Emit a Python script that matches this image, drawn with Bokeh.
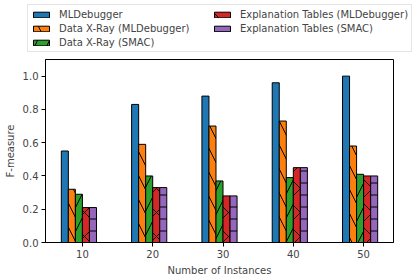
from bokeh.plotting import figure
from bokeh.layouts import column
from bokeh.models import ColumnDataSource, Legend, LegendItem, FixedTicker, Range1d, PrintfTickFormatter
from bokeh.transform import dodge
from bokeh.embed import file_html
from bokeh.resources import INLINE

instances = [10, 20, 30, 40, 50]
mldebugger = [0.55, 0.83, 0.88, 0.96, 1.00]
dxr_mld = [0.32, 0.59, 0.70, 0.73, 0.58]
dxr_smac = [0.29, 0.40, 0.37, 0.39, 0.41]
et_mld = [0.21, 0.33, 0.28, 0.45, 0.40]
et_smac = [0.21, 0.33, 0.28, 0.45, 0.40]
series_names = ["MLDebugger", "Data X-Ray (MLDebugger)", "Data X-Ray (SMAC)",
                "Explanation Tables (MLDebugger)", "Explanation Tables (SMAC)"]

src = ColumnDataSource(dict(n=instances, s0=mldebugger, s1=dxr_mld, s2=dxr_smac,
                            s3=et_mld, s4=et_smac))

FONT = "DejaVu Sans"
colors = ["#1f77b4", "#ff7f0e", "#2ca02c", "#d62728", "#9467bd"]
hatches = [" ", "left_diagonal_line", "right_diagonal_line", "diagonal_cross", "horizontal_line"]
scales = [12, 24, 24, 24, 12]
offsets = [-2.5, -1.5, -0.5, 0.5, 1.5]

# main chart
p = figure(width=417, height=224, output_backend="svg", toolbar_location=None,
           x_range=Range1d(4.75, 54.25), y_range=Range1d(0, 1.1),
           min_border_left=45, min_border_right=24, min_border_top=3, min_border_bottom=38)
p.frame_align = False
for i in range(5):
    p.vbar(x=dodge("n", offsets[i]), top="s%d" % i, width=1, bottom=0, source=src,
           fill_color=colors[i], line_color="black", line_width=1,
           hatch_pattern=hatches[i], hatch_color="black", hatch_scale=scales[i],
           hatch_weight=1)

p.xaxis.ticker = FixedTicker(ticks=instances)
p.yaxis.ticker = FixedTicker(ticks=[0, 0.2, 0.4, 0.6, 0.8, 1.0])
p.yaxis.formatter = PrintfTickFormatter(format="%.1f")
p.xaxis.axis_label = "Number of Instances"
p.yaxis.axis_label = "F-measure"
for ax in (p.xaxis, p.yaxis):
    ax.axis_label_text_font = FONT
    ax.axis_label_text_font_size = "10px"
    ax.axis_label_text_font_style = "normal"
    ax.major_label_text_font = FONT
    ax.major_label_text_font_size = "10px"
    ax.major_tick_out = 4
    ax.major_tick_in = 0
    ax.minor_tick_out = 0
    ax.minor_tick_in = 0
    ax.axis_line_color = "black"
    ax.major_tick_line_color = "black"
    ax.major_label_standoff = 3
    ax.axis_label_standoff = 4
p.xgrid.visible = False
p.ygrid.visible = False
p.outline_line_color = "black"
p.outline_line_alpha = 1

# legend strip above the chart (its bars sit outside its visible y-range)
pl = figure(width=417, height=56, output_backend="svg", toolbar_location=None,
            x_range=Range1d(4.75, 54.25), y_range=Range1d(5, 6),
            x_axis_type=None, y_axis_type=None,
            min_border_left=0, min_border_right=0, min_border_top=0, min_border_bottom=0)
pl.frame_align = False
pl.outline_line_color = None
leg_renderers = []
for i in range(5):
    r = pl.vbar(x=dodge("n", offsets[i]), top="s%d" % i, width=1, bottom=0, source=src,
                fill_color=colors[i], line_color="black", line_width=1,
                hatch_pattern=hatches[i], hatch_color="black", hatch_scale=scales[i],
                hatch_weight=1)
    leg_renderers.append(r)

legend = Legend(items=[LegendItem(label=series_names[i], renderers=[leg_renderers[i]]) for i in range(5)],
                location=(27, 4), orientation="vertical", nrows=3,
                glyph_width=20, glyph_height=7, label_height=12, label_width=151,
                label_standoff=8, spacing=2, padding=3, margin=0,
                label_text_font=FONT, label_text_font_size="10px",
                border_line_color="#cccccc", border_line_width=1,
                background_fill_alpha=0.8)
pl.add_layout(legend, "center")

layout = column(pl, p, spacing=0)
open("out.html", "w").write(file_html(layout, INLINE))
